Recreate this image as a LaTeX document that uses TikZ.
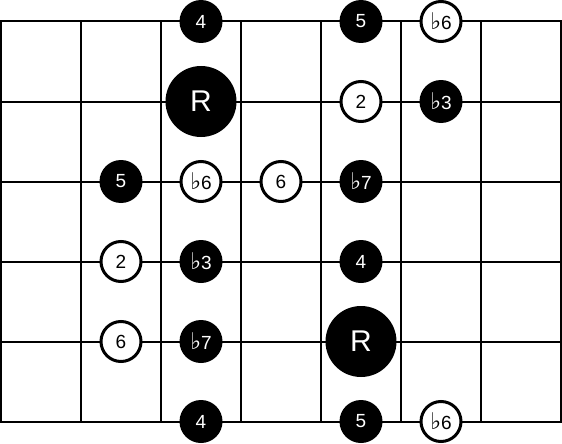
\documentclass[tikz,border=0pt]{standalone}
\usepackage{fontspec}
\setmainfont{Liberation Sans}
\newfontfamily\flatfont{DejaVu Sans}
\newcommand{\fl}{{\flatfont\fontsize{23}{23}\selectfont ♭}}
\tikzset{
  dotbase/.style={circle, inner sep=0pt, font=\fontsize{19}{19}\selectfont},
  blk/.style={dotbase, fill=black, minimum size=43pt, text=white},
  wht/.style={dotbase, fill=white, draw=black, line width=3pt, minimum size=40pt, text=black},
  root/.style={dotbase, fill=black, minimum size=71pt, text=white, font=\fontsize{30}{30}\selectfont},
  gridline/.style={line width=2pt, black}
}
\begin{document}
\begin{tikzpicture}[x=1pt,y=-1pt]
\useasboundingbox (0,0) rectangle (562,444);
\fill[white] (0,0) rectangle (562,444);
% frets (vertical)
\foreach \i in {0,...,7} {
  \coordinate (ft\i) at ({1+80*\i},21.5);
  \coordinate (fb\i) at ({1+80*\i},421.5);
  \draw[gridline] (ft\i) -- (fb\i);
}
% strings (horizontal)
\foreach \j in {0,...,5} {
  \coordinate (sl\j) at (0,{21.5+80*\j});
  \coordinate (sr\j) at (562,{21.5+80*\j});
  \draw[gridline] (sl\j) -- (sr\j);
}
% row 0
\node[blk] (a1) at (201,21.5) {4};
\node[blk] (a2) at (361,21.5) {5};
\node[wht] (a3) at (441,21.5) {\fl 6};
% row 1
\node[root] (b1) at (201,101.5) {R};
\node[wht] (b2) at (361,101.5) {2};
\node[blk] (b3) at (441,101.5) {\fl 3};
% row 2
\node[blk] (c1) at (121,181.5) {5};
\node[wht] (c2) at (201,181.5) {\fl 6};
\node[wht] (c3) at (281,181.5) {6};
\node[blk] (c4) at (361,181.5) {\fl 7};
% row 3
\node[wht] (d1) at (121,261.5) {2};
\node[blk] (d2) at (201,261.5) {\fl 3};
\node[blk] (d3) at (361,261.5) {4};
% row 4
\node[wht] (e1) at (121,341.5) {6};
\node[blk] (e2) at (201,341.5) {\fl 7};
\node[root] (e3) at (361,341.5) {R};
% row 5
\node[blk] (f1) at (201,421.5) {4};
\node[blk] (f2) at (361,421.5) {5};
\node[wht] (f3) at (441,421.5) {\fl 6};
\end{tikzpicture}
\end{document}
